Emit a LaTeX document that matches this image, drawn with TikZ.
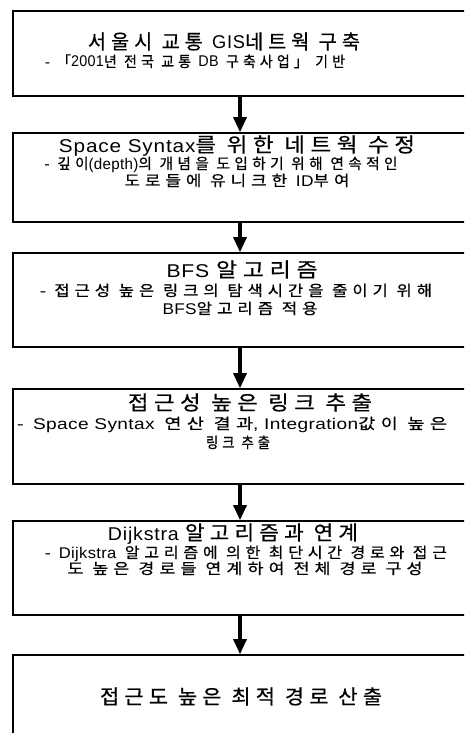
\documentclass[tikz,border=0pt]{standalone}
\usepackage{graphicx}
\usepackage{fontspec}
\setmainfont{Liberation Sans}
\newfontfamily\krTfam[LetterSpace=25,FakeBold=0.6]{Noto Sans CJK KR}
\newfontfamily\krSfam[LetterSpace=30,FakeBold=0.6]{Noto Sans CJK KR}
\newfontfamily\laTfam[LetterSpace=4]{Liberation Sans}
\newfontfamily\laSfam[LetterSpace=2]{Liberation Sans}
\newcommand\HT{\krTfam\fontsize{20}{22}\selectfont}
\newcommand\LT{\laTfam\fontsize{18.5}{21}\selectfont}
\newcommand\HS{\krSfam\fontsize{15}{16}\selectfont}
\newcommand\LS{\laSfam\fontsize{15.5}{16}\selectfont}
\newcommand\fitw[2]{\resizebox{#1pt}{\height}{#2}}
\usetikzlibrary{arrows.meta}
\tikzset{
  stepbox/.style={draw, line width=1.6pt, minimum width=458pt, inner sep=0pt},
  ttl/.style={anchor=base, inner sep=0pt},
  sub/.style={anchor=base, inner sep=0pt},
  flow/.style={line width=3.2pt, -{Triangle[width=13pt,length=15pt]}}
}
\begin{document}
\begin{tikzpicture}[x=1pt,y=-1pt]
\useasboundingbox (0,0) rectangle (464,733);
\clip (0,0) rectangle (464,733);
\node[stepbox, minimum height=85pt] (b1) at (242,53.5) {};
\node[stepbox, minimum height=89pt] (b2) at (242,177.5) {};
\node[stepbox, minimum height=94pt] (b3) at (242,300) {};
\node[stepbox, minimum height=95pt] (b4) at (242,436.5) {};
\node[stepbox, minimum height=94pt] (b5) at (242,568) {};
\node[stepbox, minimum height=92pt] (b6) at (242,701) {};
\coordinate (ax) at (240,0);
\draw[flow] (b1.south -| ax) -- (b2.north -| ax);
\draw[flow] (b2.south -| ax) -- (b3.north -| ax);
\draw[flow] (b3.south -| ax) -- (b4.north -| ax);
\draw[flow] (b4.south -| ax) -- (b5.north -| ax);
\draw[flow] (b5.south -| ax) -- (b6.north -| ax);
% box 1
\node[ttl] (t1a) at (224,49) {\fitw{272}{\HT 서울시 교통 {\LT GIS}네트웍 구축}};
\node[sub] (t1b) at (195,67) {\fitw{300}{\HS - 「{\LS 2001}년 전국 교통 {\LS DB} 구축사업」 기반}};
% box 2
\node[ttl] (t2a) at (237,152) {\fitw{356}{{\LT Space Syntax}\HT 를 위한 네트웍 수정}};
\node[sub] (t2b) at (221,169) {\fitw{353}{\HS - 깊이{\LS (depth)}의 개념을 도입하기 위해 연속적인}};
\node[sub] (t2c) at (237,186) {\fitw{225}{\HS 도로들에 유니크한 {\LS ID}부여}};
% box 3
\node[ttl] (t3a) at (242,277) {\fitw{151}{\LT BFS \HT 알고리즘}};
\node[sub] (t3b) at (236,296) {\fitw{392}{\HS - 접근성 높은 링크의 탐색시간을 줄이기 위해}};
\node[sub] (t3c) at (240,314) {\fitw{155}{{\LS BFS}\HS 알고리즘 적용}};
% box 4
\node[ttl] (t4a) at (250,410) {\fitw{244}{\HT 접근성 높은 링크 추출}};
\node[sub] (t4b) at (232,429) {\fitw{430}{\HS - {\LS Space Syntax} 연산 결과{\LS , Integration}값이 높은}};
\node[sub] (t4c) at (238,448) {\fitw{64}{\HS 링크 추출}};
% box 5
\node[ttl] (t5a) at (233,540) {\fitw{250}{\LT Dijkstra \HT 알고리즘과 연계}};
\node[sub] (t5b) at (246,558) {\fitw{402}{\HS - {\LS Dijkstra} 알고리즘에 의한 최단시간 경로와 접근}};
\node[sub] (t5c) at (245,574) {\fitw{355}{\HS 도 높은 경로들 연계하여 전체 경로 구성}};
% box 6
\node[ttl] (t6a) at (241,704) {\fitw{282}{\HT 접근도 높은 최적 경로 산출}};
\end{tikzpicture}
\end{document}
